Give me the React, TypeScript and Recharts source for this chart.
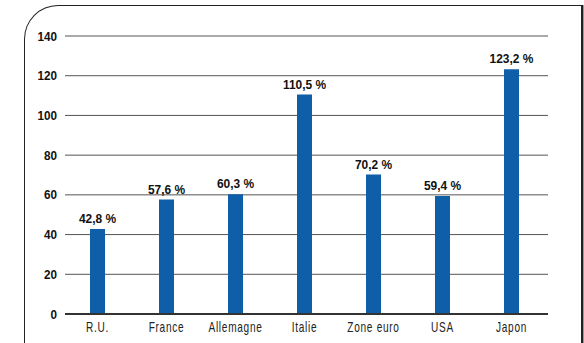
import { BarChart, Bar, XAxis, YAxis, CartesianGrid, LabelList } from 'recharts'

const countries = ['R.U.', 'France', 'Allemagne', 'Italie', 'Zone euro', 'USA', 'Japon']
const debtRatio = [42.8, 57.6, 60.3, 110.5, 70.2, 59.4, 123.2]
const yTicks = [0, 20, 40, 60, 80, 100, 120, 140]

const FONT = '"Liberation Sans", Arial, sans-serif'

const chartData = countries.map((name, i) => ({ name, value: debtRatio[i] }))

const formatPct = (v: number) => v.toFixed(1).replace('.', ',') + ' %'

// condensed look: squeeze the text horizontally
function CountryTick({ x, y, payload }: any) {
  return (
    <g transform={`translate(${x},${y})`}>
      <text
        transform="scale(0.72,1)"
        textAnchor="middle"
        dy="0.71em"
        fill="#222"
        fontSize={14}
        letterSpacing={1}
        fontFamily={FONT}
      >
        {payload.value}
      </text>
    </g>
  )
}

function ValueTick({ x, y, payload }: any) {
  return (
    <g transform={`translate(${x},${y})`}>
      <text
        transform="scale(0.9,1)"
        textAnchor="end"
        dy="0.355em"
        fill="#111"
        fontSize={13}
        fontWeight="bold"
        fontFamily={FONT}
      >
        {payload.value}
      </text>
    </g>
  )
}

function BarLabel({ x, y, width, value }: any) {
  return (
    <g transform={`translate(${Number(x) + Number(width) / 2},${Number(y) - 6})`}>
      <text
        transform="scale(0.92,1)"
        textAnchor="middle"
        fill="#111"
        fontSize={13}
        fontWeight="bold"
        fontFamily={FONT}
      >
        {formatPct(Number(value))}
      </text>
    </g>
  )
}

export default function App() {
  return (
    <div style={{ position: 'absolute', left: 0, top: 0, width: 584, height: 343, overflow: 'hidden', background: '#fff' }}>
      {/* frame with rounded top-left corner */}
      <div
        style={{
          position: 'absolute',
          left: 24,
          top: 5,
          width: 556,
          height: 400,
          borderLeft: '1.5px solid #222',
          borderTop: '1.5px solid #222',
          borderRight: '2px solid #222',
          borderTopLeftRadius: 34,
          boxShadow: '2px 0 0 #999',
        }}
      />
      <BarChart
        width={584}
        height={343}
        data={chartData}
        margin={{ top: 36, right: 36, bottom: 7, left: 25 }}
        style={{ position: 'absolute', left: 0, top: 0 }}
      >
        <CartesianGrid vertical={false} stroke="#555" />
        <XAxis
          dataKey="name"
          height={22}
          padding={{ left: -2, right: 2 }}
          tickLine={false}
          axisLine={{ stroke: '#333', strokeWidth: 2 }}
          tick={<CountryTick />}
          tickMargin={2}
          interval={0}
        />
        <YAxis
          width={40}
          domain={[0, 140]}
          ticks={yTicks}
          axisLine={false}
          tickLine={false}
          tick={<ValueTick />}
        />
        <Bar dataKey="value" fill="#0f5fa8" barSize={15} isAnimationActive={false}>
          <LabelList dataKey="value" content={<BarLabel />} />
        </Bar>
      </BarChart>
    </div>
  )
}
